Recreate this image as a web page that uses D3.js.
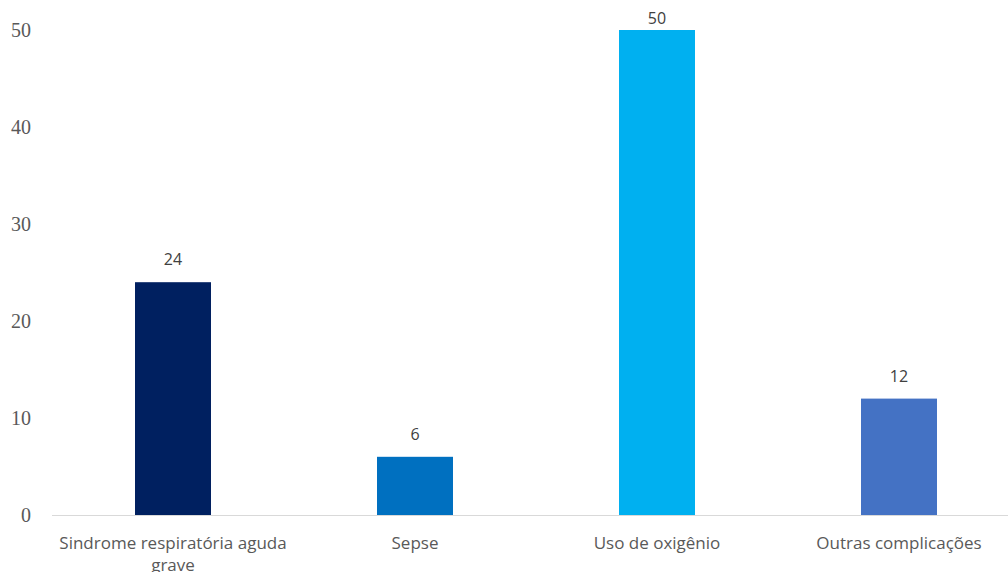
<!DOCTYPE html>
<html>
<head>
<meta charset="utf-8">
<script src="https://cdn.jsdelivr.net/npm/d3@7"></script>
<style>
  body { margin: 0; background: #fff; }
  svg { display: block; }
</style>
</head>
<body>
<div class="graph"></div>
<script>
// chart data
var categories = [["Sindrome respiratória aguda", "grave"], ["Sepse"], ["Uso de oxigênio"], ["Outras complicações"]];
var values = [24, 6, 50, 12];
var colors = ["#002060", "#0070C0", "#00B0F0", "#4472C4"];
var yTicks = [0, 10, 20, 30, 40, 50];

var width = 1008, height = 572;

var svg = d3.select(".graph").append("svg")
  .attr("width", width)
  .attr("height", height);

var x = d3.scaleBand()
  .domain(d3.range(categories.length))
  .range([52, 1020])
  .paddingInner(0.686)
  .paddingOuter(0.343);

var y = d3.scaleLinear()
  .domain([0, 50])
  .range([515, 30]);

// y tick labels (no axis line)
svg.append("g")
  .selectAll("text")
  .data(yTicks)
  .enter().append("text")
  .attr("x", 31)
  .attr("y", function (d) { return y(d); })
  .attr("dy", "0.35em")
  .attr("text-anchor", "end")
  .style("font-family", "'Liberation Serif', serif")
  .style("font-size", "20px")
  .style("fill", "#595959")
  .text(function (d) { return d; });

// bars
svg.append("g")
  .selectAll("rect")
  .data(values)
  .enter().append("rect")
  .attr("x", function (d, i) { return x(i); })
  .attr("y", function (d) { return y(d); })
  .attr("width", x.bandwidth())
  .attr("height", function (d) { return y(0) - y(d); })
  .attr("fill", function (d, i) { return colors[i]; });

// baseline
svg.append("line")
  .attr("x1", 52).attr("x2", width)
  .attr("y1", y(0) + 0.5).attr("y2", y(0) + 0.5)
  .attr("stroke", "#d9d9d9")
  .attr("stroke-width", 1);

// value labels (kept inside the top edge like the original)
svg.append("g")
  .selectAll("text")
  .data(values)
  .enter().append("text")
  .attr("x", function (d, i) { return x(i) + x.bandwidth() / 2; })
  .attr("y", function (d) { return Math.max(y(d) - 17, 24); })
  .attr("text-anchor", "middle")
  .style("font-family", "'Open Sans', sans-serif")
  .style("font-size", "16px")
  .style("fill", "#404040")
  .text(function (d) { return d; });

// category labels
var lab = svg.append("g")
  .selectAll("text")
  .data(categories)
  .enter().append("text")
  .attr("x", function (d, i) { return x(i) + x.bandwidth() / 2; })
  .attr("y", 549)
  .attr("text-anchor", "middle")
  .style("font-family", "'Open Sans', sans-serif")
  .style("font-size", "17px")
  .style("fill", "#595959");

lab.selectAll("tspan")
  .data(function (d) { return d; })
  .enter().append("tspan")
  .attr("x", function () { return d3.select(this.parentNode).attr("x"); })
  .attr("dy", function (d, i) { return i === 0 ? 0 : 22; })
  .text(function (d) { return d; });
</script>
</body>
</html>
